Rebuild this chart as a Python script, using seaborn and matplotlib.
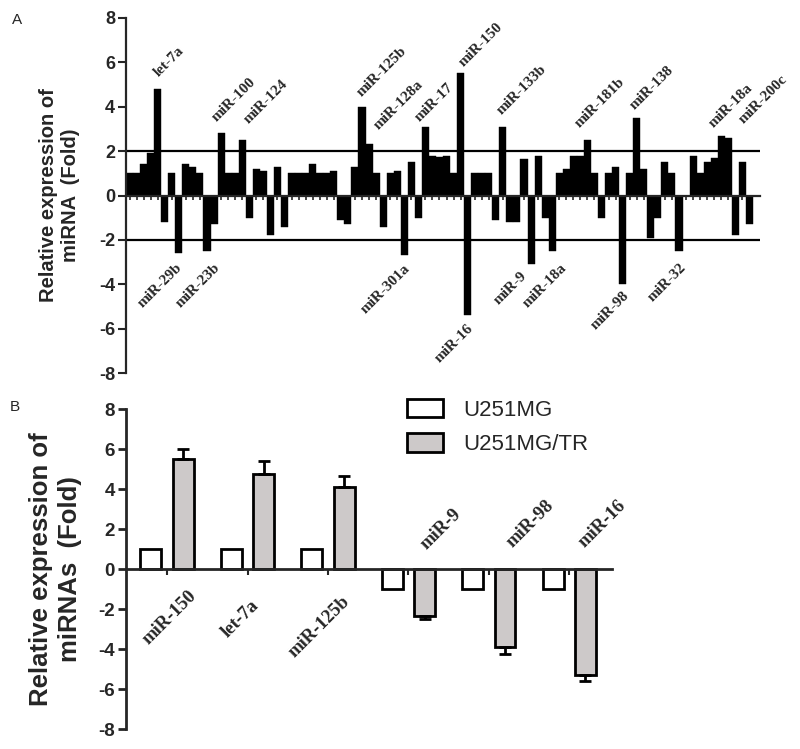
import pandas as pd
import numpy as np
import matplotlib
matplotlib.use('Agg')
import matplotlib.pyplot as plt
import seaborn as sns

# --- data: panel A (fold change of every miRNA in the array) ---
fold_values = [1.0, 1.0, 1.4, 1.9, 4.8, -1.2, 1.0, -2.6, 1.4, 1.3,
               1.0, -2.5, -1.3, 2.8, 1.0, 1.0, 2.5, -1.0, 1.2, 1.1,
               -1.8, 1.3, -1.4, 1.0, 1.0, 1.0, 1.4, 1.0, 1.0, 1.1,
               -1.1, -1.3, 1.3, 4.0, 2.3, 1.0, -1.4, 1.0, 1.1, -2.7,
               1.5, -1.0, 3.1, 1.8, 1.75, 1.8, 1.0, 5.5, -5.4, 1.0,
               1.0, 1.0, -1.1, 3.1, -1.2, -1.2, 1.65, -3.1, 1.8, -1.0,
               -2.5, 1.0, 1.2, 1.8, 1.8, 2.5, 1.0, -1.0, 1.0, 1.3,
               -4.0, 1.0, 3.5, 1.2, -1.9, -1.0, 1.5, 1.0, -2.5, 0.0,
               1.8, 1.0, 1.5, 1.7, 2.7, 2.6, -1.8, 1.5, -1.3]
up_names = ['let-7a', 'miR-100', 'miR-124', 'miR-125b', 'miR-128a', 'miR-17',
            'miR-150', 'miR-133b', 'miR-181b', 'miR-138', 'miR-18a', 'miR-200c']
down_names = ['miR-29b', 'miR-23b', 'miR-301a', 'miR-16', 'miR-9', 'miR-18a',
              'miR-98', 'miR-32']

# --- data: panel B (validation) ---
b_mirnas = ['miR-150', 'let-7a', 'miR-125b', 'miR-9', 'miR-98', 'miR-16']
u251 = [1.0, 1.0, 1.0, -1.0, -1.0, -1.0]
u251_tr = [5.5, 4.75, 4.12, -2.35, -3.9, -5.3]
u251_tr_err = [0.5, 0.65, 0.52, 0.15, 0.35, 0.32]
cell_lines = ['U251MG', 'U251MG/TR']

# label anchor positions (layout only)
up_pos = [(4.1, 5.32), (12.3, 3.33), (16.9, 3.2), (32.9, 4.46), (35.3, 2.97),
          (41.2, 3.33), (47.4, 5.81), (52.8, 3.65), (63.9, 3.06), (71.7, 3.87),
          (82.9, 3.06), (87.2, 3.2)]
down_pos = [(6.5, -2.97), (11.9, -2.97), (38.9, -3.02), (47.8, -5.68),
            (55.4, -3.33), (61.1, -2.97), (70.0, -4.23), (78.1, -2.97)]
b_pos = [(0.26, -0.9), (1.04, -1.4), (2.16, -1.2), (3.22, 0.95), (4.29, 1.05), (5.19, 1.05)]

sns.set_style('ticks')
SANS = 'Liberation Sans'
SERIF = 'Liberation Serif'
plt.rcParams['font.family'] = [SANS, 'DejaVu Sans']
plt.rcParams['axes.unicode_minus'] = False

fig = plt.figure(figsize=(8.0, 7.49), dpi=100)
ax1 = fig.add_axes([126 / 800, 1 - 373 / 749, 634 / 800, 355 / 749])
ax2 = fig.add_axes([126 / 800, 1 - 729 / 749, 486 / 800, 320 / 749])

# ---------------- panel A ----------------
df_a = pd.DataFrame({'idx': np.arange(len(fold_values)), 'fold': fold_values})
sns.barplot(data=df_a, x='idx', y='fold', color='black', width=1.0,
            saturation=1, edgecolor='black', linewidth=0.3, ax=ax1)
ax1.set_xlim(-0.5, len(fold_values) + 0.5)
ax1.set_ylim(-8, 8)
ax1.set_yticks(range(-8, 9, 2))
ax1.set_xticks(range(len(fold_values)))
ax1.set_xticklabels([])
ax1.set_xlabel('')
for s in ['top', 'right']:
    ax1.spines[s].set_visible(False)
ax1.spines['bottom'].set_position(('data', 0))
ax1.spines['bottom'].set_linewidth(1.6)
ax1.spines['left'].set_linewidth(1.6)
ax1.tick_params(axis='x', direction='out', length=3, width=1.2)
ax1.tick_params(axis='y', direction='out', length=6, width=1.5, pad=2,
                labelsize=13)
for lab in ax1.get_yticklabels():
    lab.set_fontweight('bold')
ax1.axhline(2, color='black', lw=1.6)
ax1.axhline(-2, color='black', lw=1.6)
ax1.set_ylabel('Relative expression of\nmiRNA  (Fold)', fontsize=14.5,
               fontweight='bold', linespacing=1.25)
ax1.yaxis.set_label_coords(-0.072, 0.5)

for name, (x, y) in zip(up_names, up_pos):
    ax1.text(x, y, name, rotation=45, rotation_mode='anchor', ha='left',
             va='baseline', fontsize=11, fontweight='bold', family=SERIF)
for name, (x, y) in zip(down_names, down_pos):
    ax1.text(x, y, name, rotation=45, rotation_mode='anchor', ha='right',
             va='top', fontsize=11, fontweight='bold', family=SERIF)

# ---------------- panel B ----------------
df_b = pd.DataFrame({
    'miRNA': b_mirnas * 2,
    'cell': [cell_lines[0]] * len(b_mirnas) + [cell_lines[1]] * len(b_mirnas),
    'fold': u251 + u251_tr,
})
sns.barplot(data=df_b, x='miRNA', y='fold', hue='cell', hue_order=cell_lines,
            palette={'U251MG': 'white', 'U251MG/TR': '#cdc9c9'}, saturation=1,
            edgecolor='black', linewidth=2, gap=0.35, errorbar=None,
            legend=False, ax=ax2)

# one-sided error bars on the U251MG/TR bars
tr_bars = ax2.containers[1]
xs = [p.get_x() + p.get_width() / 2 for p in tr_bars]
lower = [e if v < 0 else 0 for v, e in zip(u251_tr, u251_tr_err)]
upper = [e if v > 0 else 0 for v, e in zip(u251_tr, u251_tr_err)]
ax2.errorbar(xs, u251_tr, yerr=[lower, upper], fmt='none', ecolor='black',
             elinewidth=2, capsize=4.5, capthick=2, zorder=5)

ax2.set_xlim(-0.51, 5.53)
ax2.set_ylim(-8, 8)
ax2.set_yticks(range(-8, 9, 2))
ax2.set_xticks(range(len(b_mirnas)))
ax2.set_xticklabels([])
ax2.set_xlabel('')
for s in ['top', 'right']:
    ax2.spines[s].set_visible(False)
ax2.spines['bottom'].set_position(('data', 0))
ax2.spines['bottom'].set_linewidth(2)
ax2.spines['left'].set_linewidth(2)
ax2.tick_params(axis='x', direction='out', length=4, width=1.5)
ax2.tick_params(axis='y', direction='out', length=6, width=2, pad=2,
                labelsize=13.5)
for lab in ax2.get_yticklabels():
    lab.set_fontweight('bold')
ax2.set_ylabel('Relative expression of\nmiRNAs  (Fold)', fontsize=18.5,
               fontweight='bold', linespacing=1.3)
ax2.yaxis.set_label_coords(-0.09, 0.5)

for name, val, (x, y) in zip(b_mirnas, u251_tr, b_pos):
    if val > 0:
        ax2.text(x, y, name, rotation=45, rotation_mode='anchor', ha='right',
                 va='top', fontsize=13.5, fontweight='bold', family=SERIF)
    else:
        ax2.text(x, y, name, rotation=45, rotation_mode='anchor', ha='left',
                 va='baseline', fontsize=13.5, fontweight='bold', family=SERIF)

handles = [ax2.containers[0].patches[0], ax2.containers[1].patches[0]]
ax2.legend(handles, cell_lines, loc='upper left',
           bbox_to_anchor=(407 / 800, 1 - 399 / 749), bbox_transform=fig.transFigure,
           frameon=False, fontsize=16, handlelength=1.64, handleheight=0.9,
           handletextpad=0.9, labelspacing=0.55, borderpad=0, borderaxespad=0)

fig.text(12 / 800, 1 - 24 / 749, 'A', fontsize=11)
fig.text(10 / 800, 1 - 411 / 749, 'B', fontsize=11)

fig.savefig('out.png', dpi=100)
